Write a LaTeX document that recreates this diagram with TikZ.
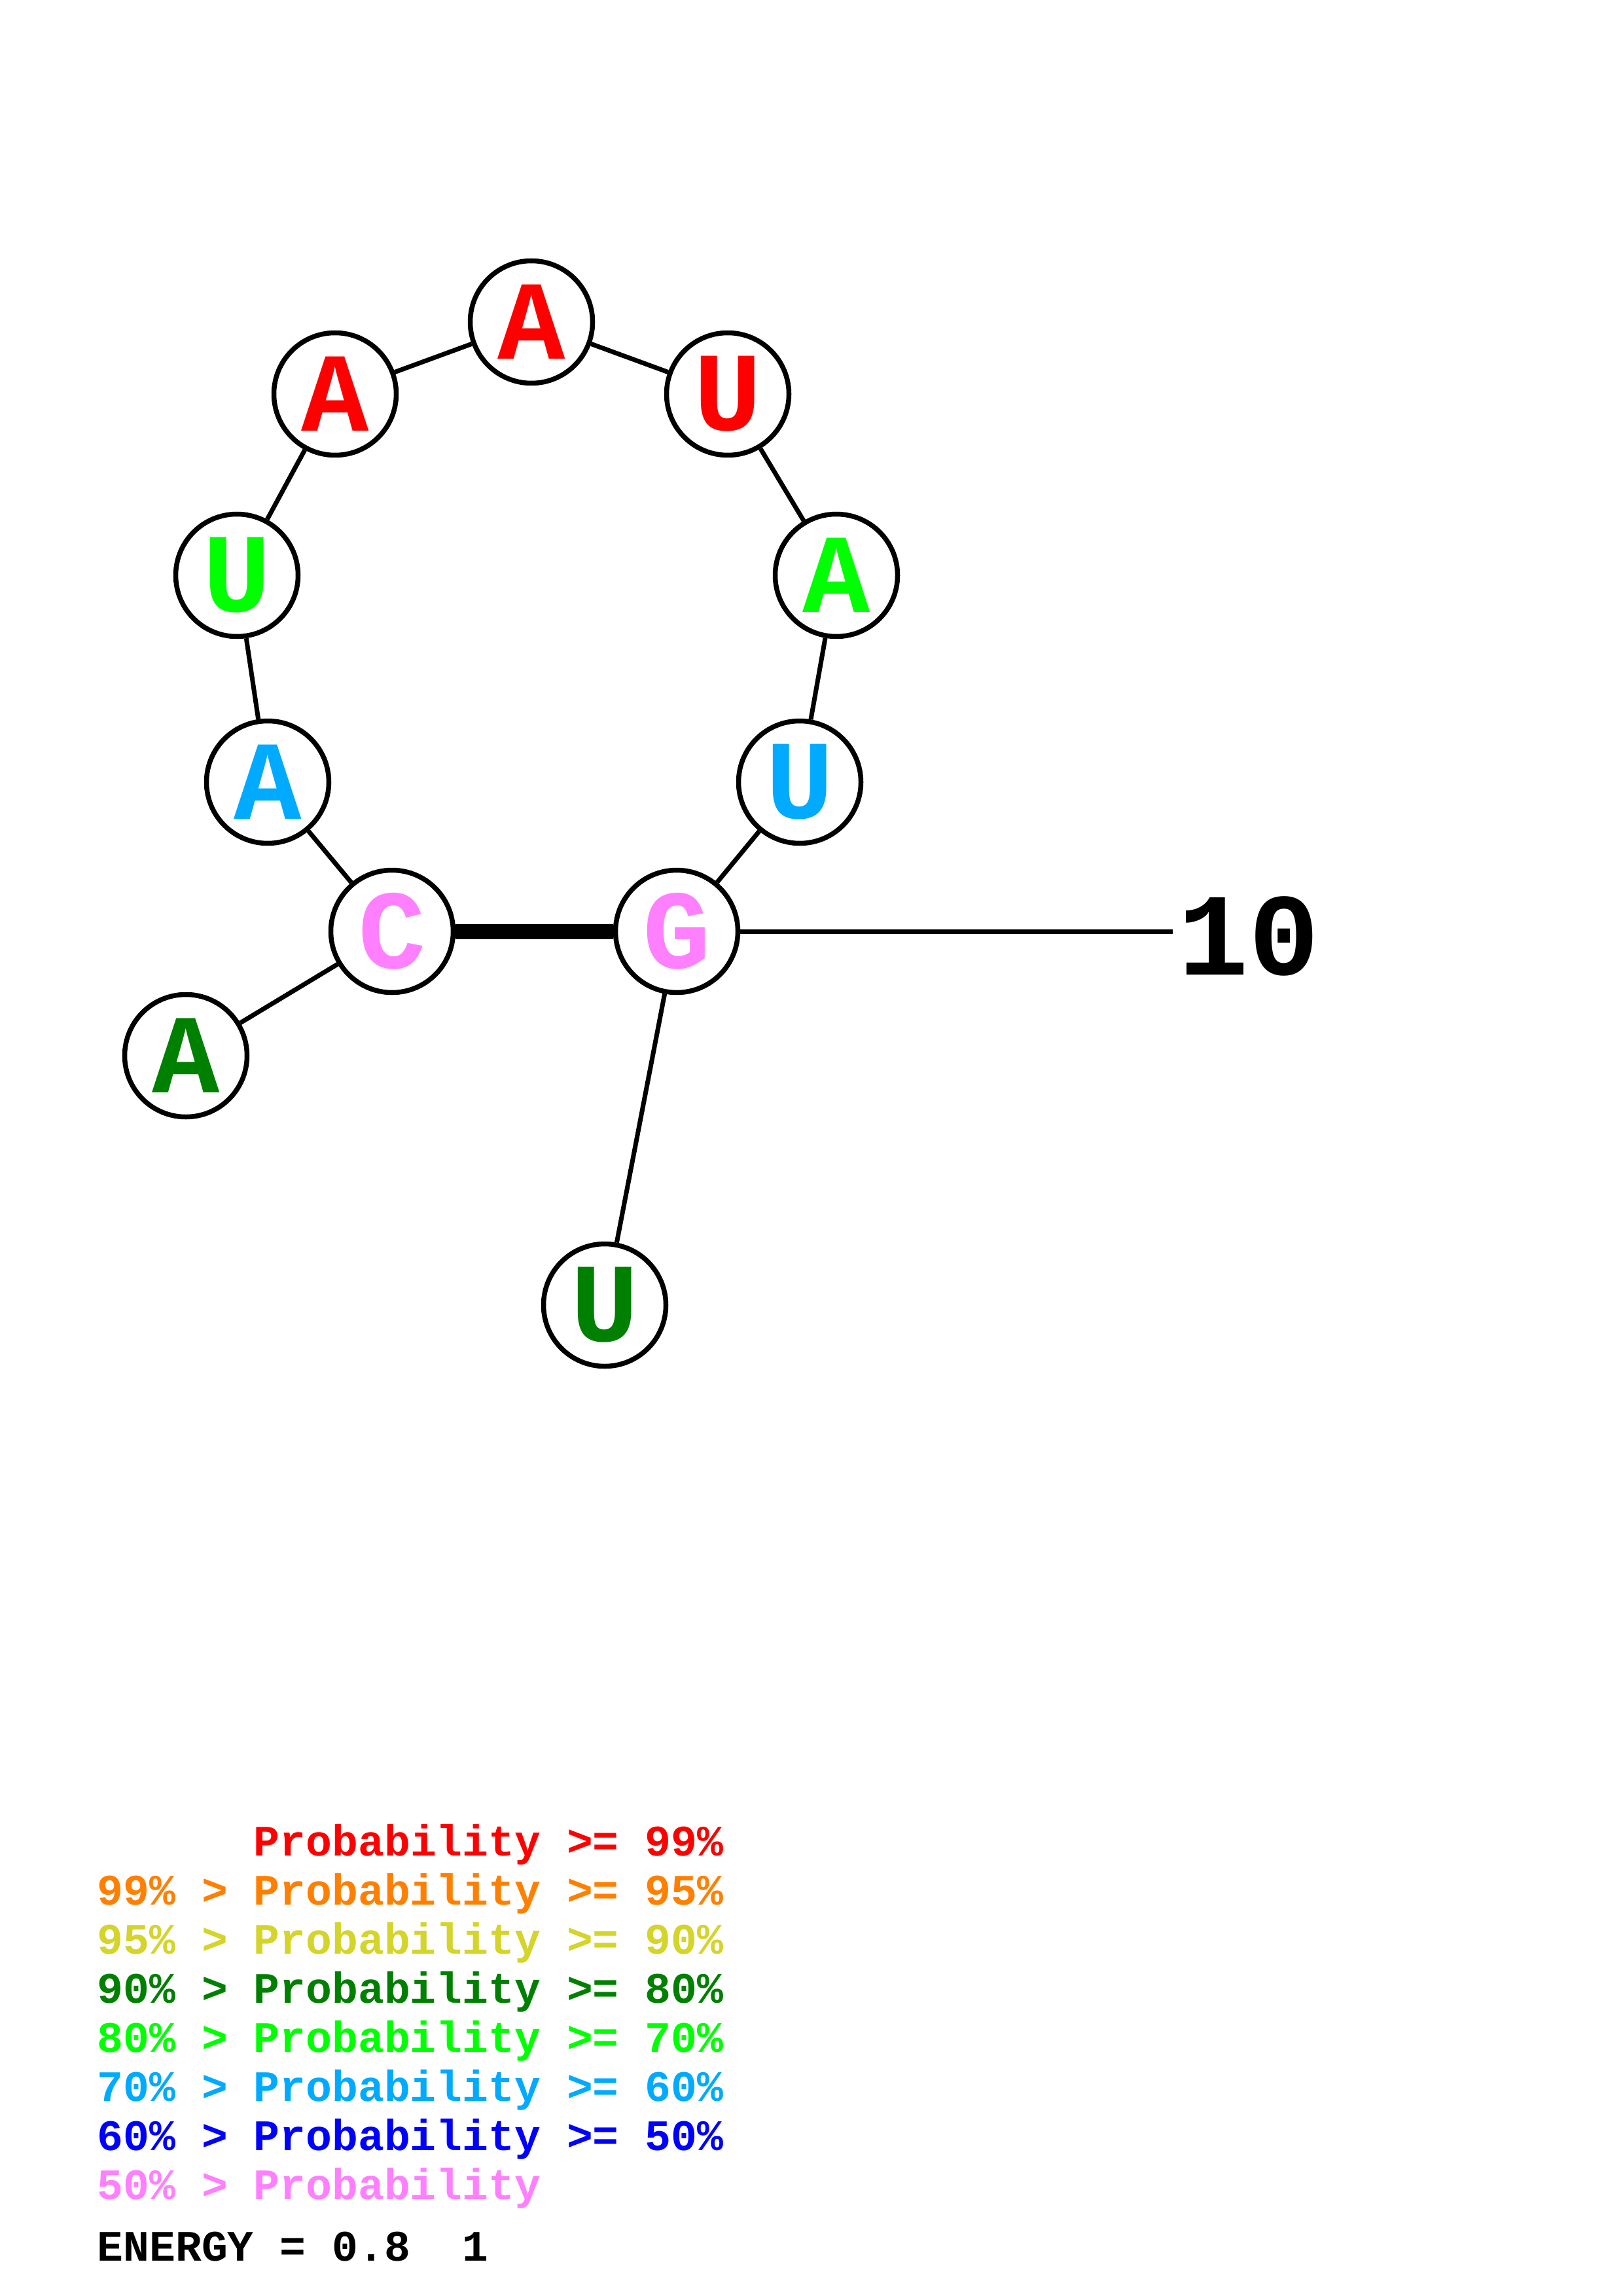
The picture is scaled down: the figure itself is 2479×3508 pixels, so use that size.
\documentclass[tikz,border=0pt]{standalone}
\usepackage{fontspec}
\setmonofont{Liberation Mono}
\definecolor{cred}{RGB}{255,0,0}
\definecolor{corange}{RGB}{255,128,0}
\definecolor{cyellow}{RGB}{212,212,42}
\definecolor{cdkgreen}{RGB}{0,128,0}
\definecolor{cgreen}{RGB}{0,255,0}
\definecolor{ccyan}{RGB}{0,170,255}
\definecolor{cblue}{RGB}{0,0,255}
\definecolor{cpink}{RGB}{255,128,255}
\newcommand{\cour}{\ttfamily\bfseries}
\begin{document}
\begin{tikzpicture}[x=0.1mm,y=-0.1mm,
  nt/.style={circle,draw=black,fill=white,line width=0.75mm,minimum size=18.7mm,inner sep=0pt,
    font=\cour\fontsize{49}{49}\selectfont},
  bb/.style={line width=0.7mm,draw=black},
  bp/.style={line width=2.3mm,draw=black},
  leg/.style={anchor=base west,inner sep=0pt,font=\cour\fontsize{18.9}{18.9}\selectfont},
  lbl/.style={inner sep=0pt,font=\cour\fontsize{51}{51}\selectfont}]
\useasboundingbox[fill=white] (0,0) rectangle (2479,3508);
% nucleotides
\node[nt,text=cdkgreen] (n1) at (284,1613) {A};
\node[nt,text=cpink] (n2) at (599,1423) {C};
\node[nt,text=ccyan] (n3) at (409,1195) {A};
\node[nt,text=cgreen] (n4) at (362,879) {U};
\node[nt,text=cred] (n5) at (512,602) {A};
\node[nt,text=cred] (n6) at (812,492) {A};
\node[nt,text=cred] (n7) at (1112,602) {U};
\node[nt,text=cgreen] (n8) at (1278,879) {A};
\node[nt,text=ccyan] (n9) at (1222,1195) {U};
\node[nt,text=cpink] (n10) at (1034,1423) {G};
\node[nt,text=cdkgreen] (n11) at (924,1994) {U};
\coordinate (tick) at (1792,1423);
\node[lbl,anchor=west] (t10) at (1800,1430) {10};
% connectors
\draw[bb] (n1) -- (n2);
\draw[bb] (n2) -- (n3);
\draw[bb] (n3) -- (n4);
\draw[bb] (n4) -- (n5);
\draw[bb] (n5) -- (n6);
\draw[bb] (n6) -- (n7);
\draw[bb] (n7) -- (n8);
\draw[bb] (n8) -- (n9);
\draw[bb] (n9) -- (n10);
\draw[bb] (n10) -- (n11);
\draw[bp] (n2) -- (n10);
\draw[bb] (n10) -- (tick);
% legend
\node[leg,text=cred] (l1) at (148,2835) {\phantom{99\% > }Probability >= 99\%};
\node[leg,text=corange] (l2) at (148,2910) {99\% > Probability >= 95\%};
\node[leg,text=cyellow] (l3) at (148,2985) {95\% > Probability >= 90\%};
\node[leg,text=cdkgreen] (l4) at (148,3060) {90\% > Probability >= 80\%};
\node[leg,text=cgreen] (l5) at (148,3135) {80\% > Probability >= 70\%};
\node[leg,text=ccyan] (l6) at (148,3210) {70\% > Probability >= 60\%};
\node[leg,text=cblue] (l7) at (148,3285) {60\% > Probability >= 50\%};
\node[leg,text=cpink] (l8) at (148,3360) {50\% > Probability};
\node[leg,text=black] (l9) at (148,3454) {ENERGY = 0.8 \ 1};
\end{tikzpicture}
\end{document}
